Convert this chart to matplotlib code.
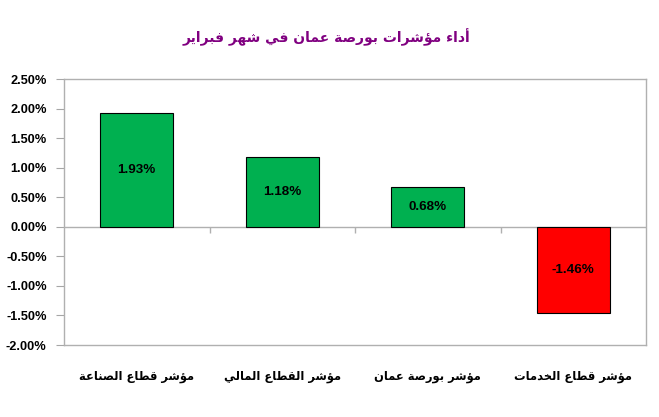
import matplotlib
matplotlib.use("Agg")
import matplotlib.pyplot as plt
import matplotlib.transforms as mtrans
import numpy as np

# data
categories = ["مؤشر قطاع الصناعة", "مؤشر القطاع المالي", "مؤشر بورصة عمان", "مؤشر قطاع الخدمات"]
values = [1.93, 1.18, 0.68, -1.46]
value_labels = ["1.93%", "1.18%", "0.68%", "-1.46%"]
yticks = [-2.0, -1.5, -1.0, -0.5, 0.0, 0.5, 1.0, 1.5, 2.0, 2.5]
title = "أداء مؤشرات بورصة عمان في شهر فبراير"

# simple arabic shaping (matplotlib has no bidi / joining)
FORMS = {
    "ا": (0xFE8D, 0xFE8E, None, None),
    "أ": (0xFE83, 0xFE84, None, None),
    "ؤ": (0xFE85, 0xFE86, None, None),
    "ء": (0xFE80, None, None, None),
    "ب": (0xFE8F, 0xFE90, 0xFE91, 0xFE92),
    "ة": (0xFE93, 0xFE94, None, None),
    "ت": (0xFE95, 0xFE96, 0xFE97, 0xFE98),
    "خ": (0xFEA5, 0xFEA6, 0xFEA7, 0xFEA8),
    "د": (0xFEA9, 0xFEAA, None, None),
    "ر": (0xFEAD, 0xFEAE, None, None),
    "ش": (0xFEB5, 0xFEB6, 0xFEB7, 0xFEB8),
    "ص": (0xFEB9, 0xFEBA, 0xFEBB, 0xFEBC),
    "ط": (0xFEC1, 0xFEC2, 0xFEC3, 0xFEC4),
    "ع": (0xFEC9, 0xFECA, 0xFECB, 0xFECC),
    "ف": (0xFED1, 0xFED2, 0xFED3, 0xFED4),
    "ق": (0xFED5, 0xFED6, 0xFED7, 0xFED8),
    "ل": (0xFEDD, 0xFEDE, 0xFEDF, 0xFEE0),
    "م": (0xFEE1, 0xFEE2, 0xFEE3, 0xFEE4),
    "ن": (0xFEE5, 0xFEE6, 0xFEE7, 0xFEE8),
    "ه": (0xFEE9, 0xFEEA, 0xFEEB, 0xFEEC),
    "و": (0xFEED, 0xFEEE, None, None),
    "ي": (0xFEF1, 0xFEF2, 0xFEF3, 0xFEF4),
}


def dual(c):
    return c in FORMS and FORMS[c][2] is not None


def joins(c):
    return c in FORMS and FORMS[c][1] is not None


def shape(s):
    out = []
    for i, c in enumerate(s):
        if c not in FORMS:
            out.append(c)
            continue
        prev = s[i - 1] if i > 0 else " "
        nxt = s[i + 1] if i < len(s) - 1 else " "
        jp = dual(prev) and joins(c)
        jn = dual(c) and joins(nxt)
        iso, fin, ini, med = FORMS[c]
        if jp and jn:
            cp = med
        elif jp:
            cp = fin
        elif jn:
            cp = ini
        else:
            cp = iso
        out.append(chr(cp))
    return "".join(out)[::-1]


plt.rcParams["font.family"] = ["Liberation Sans", "DejaVu Sans"]

fig = plt.figure(figsize=(6.59, 4.17), dpi=100)
ax = fig.add_axes([64 / 659, 1 - 345 / 417, 582 / 659, 266 / 417])

x = np.arange(len(categories))
colors = ["#00B050" if v >= 0 else "#FF0000" for v in values]
ax.bar(x, values, width=0.5, color=colors, edgecolor="black", linewidth=0.8, zorder=3)

for xi, v, lab in zip(x, values, value_labels):
    ax.text(xi, v / 2, lab, ha="center", va="center", fontsize=9.7,
            fontweight="bold", zorder=4)

ax.set_xlim(-0.5, len(categories) - 0.5)
ax.set_ylim(yticks[0], yticks[-1])
ax.set_yticks(yticks)
ax.set_yticklabels(["%.2f%%" % t for t in yticks], fontsize=9.2, fontweight="bold")
ax.tick_params(axis="y", length=6, width=0.8, color="#a6a6a6", pad=6.5)

# category axis sits on zero line
ax.axhline(0, color="#b0b0b0", linewidth=1, zorder=2)
bounds = x[:-1] + 0.5
tick_len = 6 * (yticks[-1] - yticks[0]) / 266
ax.vlines(bounds, -tick_len, 0, color="#b0b0b0", linewidth=1, zorder=2)

ax.set_xticks([])
lab_trans = mtrans.blended_transform_factory(ax.transData, ax.transAxes)
for xi, c in zip(x, categories):
    ax.text(xi, -0.12, shape(c), transform=lab_trans,
            ha="center", va="center", fontsize=8.3, fontweight="bold", family="DejaVu Sans")

for sp in ax.spines.values():
    sp.set_color("#b0b0b0")
    sp.set_linewidth(1)

fig.text(326 / 659, 1 - 37 / 417, shape(title), ha="center", va="center",
         fontsize=10, fontweight="bold", color="#800080", family="DejaVu Sans")

fig.savefig("out.png", dpi=100)
